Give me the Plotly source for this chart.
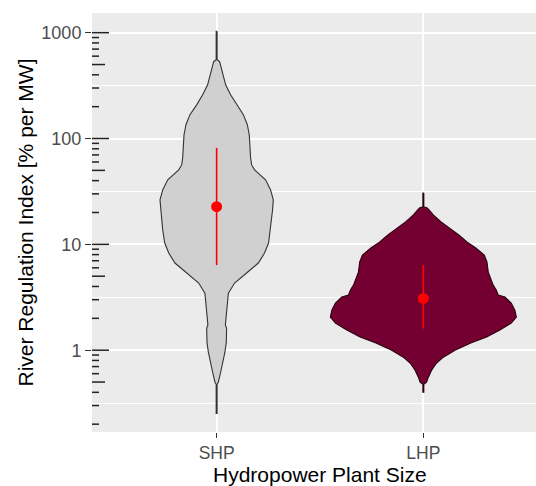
import plotly.graph_objects as go

# ---------------- data ----------------
categories = ["SHP", "LHP"]

# violin outlines: y value and relative half-width (1 = widest violin)
shp_y = [1030, 555, 532, 401, 322, 259, 208, 168, 135, 108, 65.6, 56.3, 50.6, 40.7, 32.7,
         26.3, 21.1, 17.0, 13.7, 10.3, 8.28, 6.66, 5.36, 4.31, 3.46, 2.67, 1.73, 1.62, 1.19,
         0.957, 0.769, 0.619, 0.498, 0.476, 0.253]
shp_w = [0.005, 0.005, 0.032, 0.068, 0.097, 0.150, 0.215, 0.287, 0.330, 0.351, 0.365, 0.376,
         0.408, 0.526, 0.580, 0.609, 0.601, 0.590, 0.580, 0.558, 0.515, 0.448, 0.322, 0.193,
         0.126, 0.111, 0.094, 0.107, 0.104, 0.089, 0.068, 0.043, 0.018, 0.005, 0.005]

lhp_y = [30.6, 22.6, 22.1, 18.97, 16.3, 14.3, 12.3, 10.5, 9.23, 7.93, 6.81, 5.47, 4.12, 3.70,
         3.32, 3.18, 2.79, 2.39, 2.05, 1.80, 1.55, 1.33, 1.17, 1.00, 0.859, 0.753, 0.647, 0.556,
         0.498, 0.476, 0.401]
lhp_w = [0.005, 0.005, 0.043, 0.107, 0.191, 0.279, 0.381, 0.472, 0.564, 0.655, 0.684, 0.698,
         0.751, 0.784, 0.805, 0.877, 0.945, 0.984, 1.0, 0.945, 0.823, 0.680, 0.510, 0.340, 0.215,
         0.140, 0.089, 0.054, 0.035, 0.005, 0.005]

# summary (red point = median, red line = spread)
medians = [22.7, 3.08]
upper = [81.6, 6.37]
lower = [6.37, 1.60]

y_tick_vals = [1, 10, 100, 1000]
y_tick_text = ["1", "10", "100", "1000"]

# ---------------- styling ----------------
FONT = "Liberation Sans, Arial, sans-serif"
HALF = 0.45            # max violin half-width in x units
X_MIN, X_MAX = -0.603, 1.545
Y_RANGE = [-0.773, 3.186]
PX_PER_X = 206.7

fills = ["#D0D0D0", "#730030"]
outlines = ["#333333", "#2a0012"]

fig = go.Figure()

profiles = [(shp_y, shp_w), (lhp_y, lhp_w)]
for i, (ys, ws) in enumerate(profiles):
    xr = [i + HALF * w for w in ws]
    xl = [i - HALF * w for w in ws]
    fig.add_trace(go.Scatter(
        x=xr + xl[::-1] + [xr[0]],
        y=ys + ys[::-1] + [ys[0]],
        mode="lines", fill="toself", fillcolor=fills[i],
        line=dict(color=outlines[i], width=1.1),
        hoverinfo="skip", showlegend=False,
    ))

# red median points with spread lines
fig.add_trace(go.Scatter(
    x=list(range(len(categories))), y=medians, mode="markers",
    marker=dict(color="#FF0000", size=11),
    error_y=dict(type="data", symmetric=False,
                 array=[u - m for u, m in zip(upper, medians)],
                 arrayminus=[m - l for l, m in zip(lower, medians)],
                 color="#FF0000", thickness=1.6, width=0),
    showlegend=False,
))

# log ticks inside the panel (annotation_logticks style)
lx, ly = [], []
for k in range(-1, 4):
    for m in range(1, 10):
        v = m * 10 ** k
        if 10 ** Y_RANGE[0] <= v <= 10 ** Y_RANGE[1]:
            L = 17 if m == 1 else (13 if m == 5 else 7)
            lx += [X_MIN, X_MIN + L / PX_PER_X, None]
            ly += [v, v, None]
fig.add_trace(go.Scatter(x=lx, y=ly, mode="lines",
                         line=dict(color="#222222", width=1.5),
                         hoverinfo="skip", showlegend=False, cliponaxis=False))

minor_vals = [10 ** (k + 0.5) for k in range(-1, 3)]

W, H = 536, 486
ML, MT, MB = 92, 13, 54
PW, PH = W - ML, H - MT - MB

fig.update_layout(
    width=W, height=H,
    margin=dict(l=ML, r=0, t=MT, b=MB, autoexpand=False),
    paper_bgcolor="white", plot_bgcolor="#EBEBEB",
    font=dict(family=FONT),
    xaxis=dict(
        range=[X_MIN, X_MAX], tickvals=list(range(len(categories))), ticktext=categories,
        ticks="outside", ticklen=5, tickwidth=1.2, tickcolor="#333333",
        tickfont=dict(size=17.5, color="#4D4D4D"),
        showgrid=True, gridcolor="white", gridwidth=2,
        zeroline=False, showline=False, automargin=False,
    ),
    yaxis=dict(
        type="log", range=Y_RANGE, tickvals=y_tick_vals, ticktext=y_tick_text,
        ticks="outside", ticklen=6, tickwidth=1.2, tickcolor="#333333",
        tickfont=dict(size=18, color="#4D4D4D"),
        showgrid=True, gridcolor="white", gridwidth=2,
        minor=dict(tickmode="array", tickvals=minor_vals, ticks="",
                   showgrid=True, gridcolor="white", gridwidth=1.1),
        zeroline=False, showline=False, automargin=False,
    ),
    annotations=[
        dict(text="Hydropower Plant Size", xref="x", yref="paper", x=0.5,
             y=-(474 - 432) / PH,
             xanchor="center", yanchor="middle", showarrow=False,
             font=dict(size=21, color="black", family=FONT)),
        dict(text="River Regulation Index [% per MW]", xref="paper", yref="paper",
             x=(25 - 92) / PW, y=0.5, textangle=-90,
             xanchor="center", yanchor="middle", showarrow=False,
             font=dict(size=21, color="black", family=FONT)),
    ],
)

fig.write_html("out.html", config={"displayModeBar": False},
               post_script="document.body.style.margin='0';document.body.style.overflow='hidden';")
